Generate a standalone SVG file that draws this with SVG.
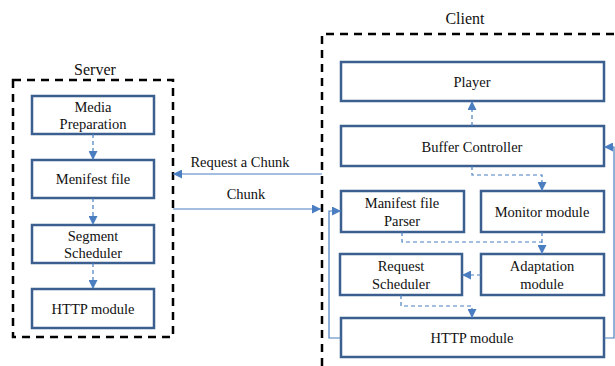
<svg xmlns="http://www.w3.org/2000/svg" width="615" height="366" viewBox="0 0 615 366">
  <defs>
    <marker id="ah" viewBox="0 0 10 10" refX="10" refY="5" markerWidth="9" markerHeight="9" markerUnits="userSpaceOnUse" orient="auto">
      <path d="M0,0 L10,5 L0,10 z" fill="#4a7ec0"/>
    </marker>
    <style>
      .group { fill: none; stroke: #000; stroke-width: 2.5; stroke-dasharray: 8 6; }
      .node rect { fill: #fff; stroke: #3b5f8e; stroke-width: 2.5; }
      .lbl { font-family: "Liberation Serif", "DejaVu Serif", "Noto Serif", serif; font-size: 14.5px; fill: #111; text-anchor: middle; }
      .title { font-size: 16px; }
      .dash { fill: none; stroke: #4a7ec0; stroke-width: 1.2; stroke-dasharray: 4 3; }
      .solid { fill: none; stroke: #4a7ec0; stroke-width: 1.2; }
      .arrow { marker-end: url(#ah); }
    </style>
  </defs>
  <rect width="615" height="366" fill="#fff"/>

  <!-- containers -->
  <g id="server">
    <rect class="group" x="13" y="80" width="160" height="257"/>
    <text class="lbl title" x="95" y="75">Server</text>
  </g>
  <g id="client">
    <path class="group" d="M322,366 V34 H615"/>
    <text class="lbl title" x="465" y="24">Client</text>
  </g>

  <!-- server nodes -->
  <g id="media-preparation" class="node">
    <rect x="32" y="96" width="122" height="38"/>
    <text class="lbl" x="93" y="112">Media</text>
    <text class="lbl" x="93" y="129">Preparation</text>
  </g>
  <g id="menifest-file" class="node">
    <rect x="32" y="160" width="122" height="38"/>
    <text class="lbl" x="93" y="184">Menifest file</text>
  </g>
  <g id="segment-scheduler" class="node">
    <rect x="32" y="225" width="122" height="38"/>
    <text class="lbl" x="93" y="241">Segment</text>
    <text class="lbl" x="93" y="258">Scheduler</text>
  </g>
  <g id="server-http" class="node">
    <rect x="32" y="289" width="122" height="39"/>
    <text class="lbl" x="93" y="314">HTTP module</text>
  </g>

  <!-- client nodes -->
  <g id="player" class="node">
    <rect x="341" y="62" width="263" height="39"/>
    <text class="lbl" x="472" y="87">Player</text>
  </g>
  <g id="buffer-controller" class="node">
    <rect x="341" y="126" width="263" height="40"/>
    <text class="lbl" x="472" y="152">Buffer Controller</text>
  </g>
  <g id="manifest-parser" class="node">
    <rect x="341" y="191" width="123" height="41"/>
    <text class="lbl" x="402" y="208">Manifest file</text>
    <text class="lbl" x="402" y="226">Parser</text>
  </g>
  <g id="monitor-module" class="node">
    <rect x="481" y="191" width="123" height="41"/>
    <text class="lbl" x="542" y="217">Monitor module</text>
  </g>
  <g id="request-scheduler" class="node">
    <rect x="340" y="254" width="122" height="41"/>
    <text class="lbl" x="401" y="271">Request</text>
    <text class="lbl" x="401" y="289">Scheduler</text>
  </g>
  <g id="adaptation-module" class="node">
    <rect x="481" y="254" width="123" height="41"/>
    <text class="lbl" x="542" y="271">Adaptation</text>
    <text class="lbl" x="542" y="289">module</text>
  </g>
  <g id="client-http" class="node">
    <rect x="341" y="318" width="263" height="39"/>
    <text class="lbl" x="472" y="343">HTTP module</text>
  </g>

  <!-- connectors -->
  <g id="connectors">
    <path class="dash arrow" d="M93,134 V160"/>
    <path class="dash arrow" d="M93,198 V225"/>
    <path class="dash arrow" d="M93,263 V289"/>

    <path class="dash arrow" d="M472,126 V101"/>
    <path class="dash arrow" d="M472,166 V175 H542 V191"/>
    <path class="dash" d="M402,232 V242 H542"/>
    <path class="dash arrow" d="M542,232 V254"/>
    <path class="dash arrow" d="M481,275 H462"/>
    <path class="dash arrow" d="M401,295 V306 H472 V318"/>

    <path class="solid arrow" d="M341,338 H329 V211 H341"/>
    <path class="solid arrow" d="M604,338 H614 V147 H604"/>

    <path class="solid arrow" d="M322,174 H173"/>
    <path class="solid arrow" d="M173,209 H321"/>
    <text class="lbl" x="240" y="167">Request a Chunk</text>
    <text class="lbl" x="246" y="199">Chunk</text>
  </g>
</svg>
